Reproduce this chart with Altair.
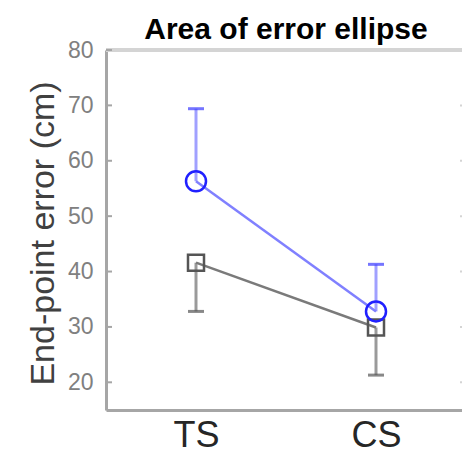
import altair as alt
import pandas as pd

# Group labels and summary values (cm)
conditions = ["TS", "CS"]
blue_mean = [56.3, 32.8]
blue_upper = [69.4, 41.3]
gray_mean = [41.6, 29.9]
gray_lower = [32.8, 21.3]
y_ticks = [20, 30, 40, 50, 60, 70, 80]

FONT = "Liberation Sans"
W, H = 356, 360

pos = list(range(1, len(conditions) + 1))
df = pd.DataFrame({
    "pos": pos,
    "cond": conditions,
    "blue_mean": blue_mean,
    "blue_upper": blue_upper,
    "gray_mean": gray_mean,
    "gray_lower": gray_lower,
})
ticks_df = pd.DataFrame({"v": y_ticks})

label_list = "[" + ",".join(f"'{c}'" for c in conditions) + "]"

x_scale = alt.Scale(domain=[0.5, len(conditions) + 0.5], range=[0, 360], nice=False, zero=False)
y_scale = alt.Scale(domain=[15, 80], nice=False, zero=False)

x_axis = alt.Axis(
    values=pos, labelExpr=f"{label_list}[datum.value - 1]", ticks=False, grid=False,
    domainColor="#a6a6a6", domainWidth=3, labelFont=FONT, labelFontSize=36,
    labelColor="#262626", labelPadding=8, title=None,
)
y_axis = alt.Axis(
    values=y_ticks, ticks=False, grid=False, domainColor="#a6a6a6", domainWidth=3,
    labelFont=FONT, labelFontSize=23, labelColor="#808080", labelPadding=13,
    title="End-point error (cm)", titleFont=FONT, titleFontSize=34,
    titleFontWeight="normal", titleColor="#404040", titleX=-53, titleY=183,
    titleBaseline="alphabetic",
)

base = alt.Chart(df)
X = alt.X("pos:Q", scale=x_scale, axis=x_axis)

# error bars
blue_bar = base.mark_rule(color="#a0a0ff", strokeWidth=3).encode(
    x=X, y=alt.Y("blue_mean:Q", scale=y_scale, axis=y_axis), y2="blue_upper:Q")
blue_cap = base.mark_tick(orient="horizontal", size=16, thickness=3, color="#3a3aff").encode(
    x="pos:Q", y="blue_upper:Q")
gray_bar = base.mark_rule(color="#9a9a9a", strokeWidth=3).encode(
    x="pos:Q", y="gray_lower:Q", y2="gray_mean:Q")
gray_cap = base.mark_tick(orient="horizontal", size=16, thickness=3, color="#555555").encode(
    x="pos:Q", y="gray_lower:Q")

# connecting lines
gray_line = base.mark_line(color="#7a7a7a", strokeWidth=2.5).encode(x="pos:Q", y="gray_mean:Q")
blue_line = base.mark_line(color="#8080ff", strokeWidth=2.5).encode(x="pos:Q", y="blue_mean:Q")

# markers
gray_pts = base.mark_point(shape="square", filled=False, size=256, strokeWidth=2.5,
                           color="#555555", opacity=1).encode(x="pos:Q", y="gray_mean:Q")
blue_pts = base.mark_point(shape="circle", filled=False, size=400, strokeWidth=2.5,
                           color="#2020ff", opacity=1).encode(x="pos:Q", y="blue_mean:Q")

# frame: light top border and inward ticks on both sides
top_border = alt.Chart(pd.DataFrame({"v": [80]})).mark_rule(color="#d4d4d4", strokeWidth=4).encode(
    y="v:Q", x=alt.value(0), x2=alt.value(360))
left_ticks = alt.Chart(ticks_df).mark_rule(color="#a6a6a6", strokeWidth=2).encode(
    y="v:Q", x=alt.value(0), x2=alt.value(6))
right_ticks = alt.Chart(ticks_df).mark_rule(color="#d4d4d4", strokeWidth=2).encode(
    y="v:Q", x=alt.value(354), x2=alt.value(360))

chart = alt.layer(
    blue_bar, top_border, left_ticks, right_ticks, gray_bar, gray_cap, blue_cap,
    gray_line, blue_line, gray_pts, blue_pts,
).properties(
    width=W, height=H,
    title=alt.TitleParams("Area of error ellipse", font=FONT, fontSize=30, fontWeight="bold",
                          color="black", anchor="middle", baseline="alphabetic", offset=12,
                          dx=2, dy=42),
    autosize=alt.AutoSizeParams(type="none"),
    padding={"left": 106, "top": 50, "right": 0, "bottom": 44},
).configure_view(strokeWidth=0).configure(background="white")

chart.save("out.html", embed_options={"renderer": "svg", "actions": False})
